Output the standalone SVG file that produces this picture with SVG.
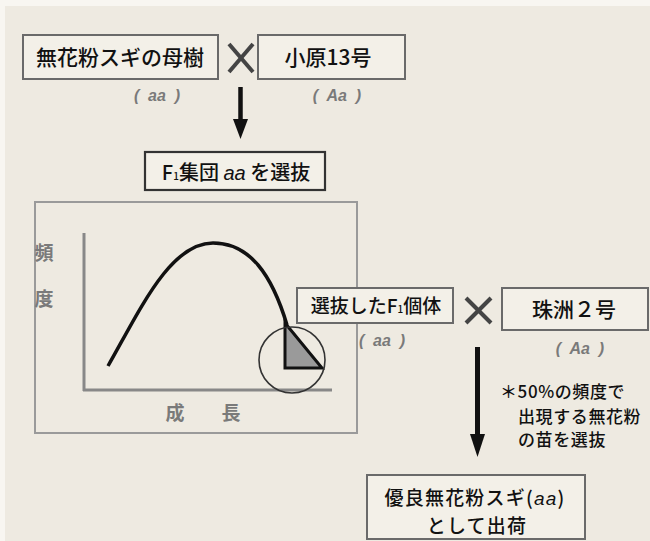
<svg xmlns="http://www.w3.org/2000/svg" width="650" height="541" viewBox="0 0 650 541">
<defs>
<style>
.jp{font-family:"Noto Sans CJK JP","Noto Sans",sans-serif;fill:#111;font-weight:500}
.box{fill:#f3f0e8;stroke:#6a6a6a;stroke-width:2}
.gen{font-family:"Liberation Sans",Arial,sans-serif;font-weight:bold;font-style:italic;font-size:16px;fill:#7a7a7a}
.lbl{font-family:"Noto Sans CJK JP",sans-serif;font-size:19px;fill:#7a7a7a;font-weight:bold}
.x{stroke:#444;stroke-width:4;stroke-linecap:butt}
</style>
</defs>
<rect x="0" y="0" width="650" height="541" fill="#f8f6f1"/>
<rect x="5" y="6" width="645" height="535" fill="#eeeae1"/>

<g id="graph">
<rect x="35" y="202" width="322" height="231" fill="none" stroke="#9a9a9a" stroke-width="2"/>
<line x1="84" y1="233" x2="84" y2="391" stroke="#888" stroke-width="3"/>
<line x1="83" y1="390" x2="332" y2="390" stroke="#888" stroke-width="3"/>
<path d="M108,366 C140,310 170,243 213,243 C250,243 272,275 287,325" fill="none" stroke="#111" stroke-width="3.5"/>
<polygon points="285,323 285,368 322,368" fill="#9a9a9a" stroke="#111" stroke-width="3" stroke-linejoin="miter"/>
<circle cx="292" cy="360" r="33" fill="none" stroke="#333" stroke-width="1.6"/>
<text class="lbl" x="44" y="260" text-anchor="middle">頻</text>
<text class="lbl" x="44" y="306" text-anchor="middle">度</text>
<text class="lbl" x="175" y="420" text-anchor="middle">成</text>
<text class="lbl" x="231" y="420" text-anchor="middle">長</text>
</g>

<g id="connectors">
<line class="x" x1="229" y1="44" x2="253" y2="72"/>
<line class="x" x1="253" y1="44" x2="229" y2="72"/>
<line class="x" x1="466" y1="298" x2="491" y2="323"/>
<line class="x" x1="491" y1="298" x2="466" y2="323"/>
<line x1="240.5" y1="87" x2="240.5" y2="122" stroke="#111" stroke-width="4.5"/>
<polygon points="233,119 248,119 240.5,139" fill="#111"/>
<line x1="477.5" y1="347" x2="477.5" y2="438" stroke="#111" stroke-width="5"/>
<polygon points="470,434 485,434 477.5,457" fill="#111"/>
</g>

<g id="n1">
<rect class="box" x="23" y="35" width="195" height="44"/>
<text class="jp" x="120" y="65" font-size="21" text-anchor="middle">無花粉スギの母樹</text>
<text class="gen" x="157" y="101" text-anchor="middle" xml:space="preserve">(  aa  )</text>
</g>

<g id="n2">
<rect class="box" x="258" y="35" width="147" height="44"/>
<text class="jp" x="328" y="65" font-size="21" text-anchor="middle">小原13号</text>
<text class="gen" x="337" y="101" text-anchor="middle" xml:space="preserve">(  Aa  )</text>
</g>

<g id="n3">
<rect x="145" y="152" width="180" height="38" fill="#f3f0e8" stroke="#333" stroke-width="2.2"/>
<text class="jp" x="236" y="180" font-size="20" text-anchor="middle">F<tspan font-size="10">1</tspan>集団 <tspan font-family="Liberation Sans,Arial,sans-serif" font-style="italic">aa</tspan> を選抜</text>
</g>

<g id="n4">
<rect class="box" x="297" y="288" width="156" height="35"/>
<text class="jp" x="376" y="313" font-size="19" text-anchor="middle">選抜したF<tspan font-size="10">1</tspan>個体</text>
<text class="gen" x="382" y="346" text-anchor="middle" xml:space="preserve">(  aa  )</text>
</g>

<g id="n5">
<rect class="box" x="502" y="288" width="146" height="42"/>
<text class="jp" x="574" y="317" font-size="21" text-anchor="middle">珠洲２号</text>
<text class="gen" x="580" y="354" text-anchor="middle" xml:space="preserve">(  Aa  )</text>
</g>

<g id="note">
<text class="jp" font-size="17" letter-spacing="0.6">
<tspan x="500" y="398">＊50%の頻度で</tspan>
<tspan x="518" y="423">出現する無花粉</tspan>
<tspan x="518" y="446">の苗を選抜</tspan>
</text>
</g>

<g id="n6">
<rect class="box" x="367" y="475" width="218" height="64"/>
<text class="jp" x="475" y="505" font-size="19" letter-spacing="1.2" text-anchor="middle">優良無花粉スギ(<tspan font-family="Liberation Sans,Arial,sans-serif" font-style="italic">aa</tspan>)</text>
<text class="jp" x="477" y="533" font-size="19" letter-spacing="1.2" text-anchor="middle">として出荷</text>
</g>
</svg>
